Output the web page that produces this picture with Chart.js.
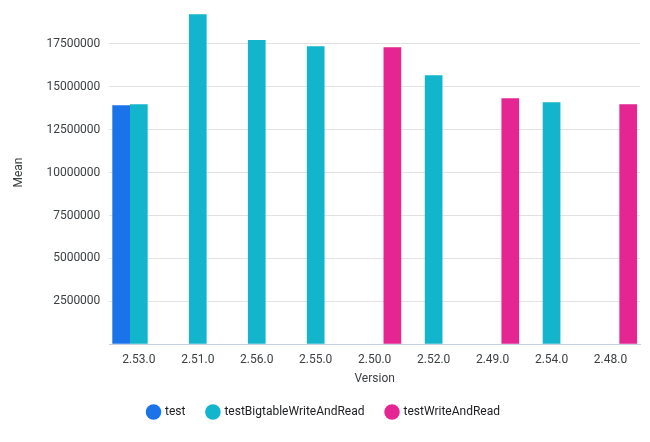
<!DOCTYPE html>
<html>
<head>
<meta charset="utf-8">
<script src="https://cdn.jsdelivr.net/npm/chart.js@4"></script>
<style>
  html, body { margin: 0; padding: 0; background: #fff; }
  #wrap { width: 650px; height: 442px; }
</style>
</head>
<body>
<div id="wrap"><canvas id="chart" width="650" height="442"></canvas></div>
<script>
// Versões no eixo x
const versions = ["2.53.0", "2.51.0", "2.56.0", "2.55.0", "2.50.0", "2.52.0", "2.49.0", "2.54.0", "2.48.0"];

// Médias por série (null = sem valor)
const testValues = [13930000, null, null, null, null, null, null, null, null];
const bigtableValues = [13990000, 19230000, 17720000, 17370000, null, 15680000, null, 14100000, null];
const writeAndReadValues = [null, null, null, null, 17310000, null, 14340000, null, 13990000];

// Marcas do eixo y
const yTickValues = [0, 2500000, 5000000, 7500000, 10000000, 12500000, 15000000, 17500000];

const seriesNames = ["test", "testBigtableWriteAndRead", "testWriteAndRead"];
const seriesColors = ["#1a73e8", "#12b5cb", "#e52592"];

const textColor = "#3c4043";
Chart.defaults.font.family = "Roboto, 'Noto Sans', sans-serif";
Chart.defaults.font.size = 12;
Chart.defaults.color = textColor;

const datasets = [testValues, bigtableValues, writeAndReadValues].map((data, i) => ({
  label: seriesNames[i],
  data: data,
  backgroundColor: seriesColors[i],
  borderWidth: 0,
  categoryPercentage: 0.9,
  barPercentage: 1.0,
}));

new Chart(document.getElementById("chart"), {
  type: "bar",
  data: { labels: versions, datasets },
  options: {
    responsive: false,
    animation: false,
    layout: { padding: { top: 1, right: 10, left: 8, bottom: 14 } },
    plugins: {
      legend: {
        position: "bottom",
        labels: {
          usePointStyle: true,
          pointStyle: "circle",
          boxWidth: 11,
          boxHeight: 11,
          padding: 22,
          color: "#202124",
        },
      },
      tooltip: { enabled: false },
    },
    scales: {
      x: {
        grid: { display: false, drawTicks: false },
        border: { color: "#c6d0e3", width: 1 },
        ticks: { padding: 9 },
        title: { display: true, text: "Version", padding: { top: -5, bottom: -2 } },
      },
      y: {
        min: 0,
        max: 20000000,
        grid: { color: "#e2e2e2", drawTicks: false },
        border: { display: false },
        afterBuildTicks: (axis) => {
          axis.ticks = yTickValues.map((v) => ({ value: v }));
        },
        afterFit: (axis) => {
          axis.paddingTop = 0;
        },
        ticks: {
          padding: 9,
          callback: (v) => (v === 0 ? "" : String(v)),
        },
        title: { display: true, text: "Mean", padding: { bottom: 11 } },
      },
    },
  },
});
</script>
</body>
</html>
